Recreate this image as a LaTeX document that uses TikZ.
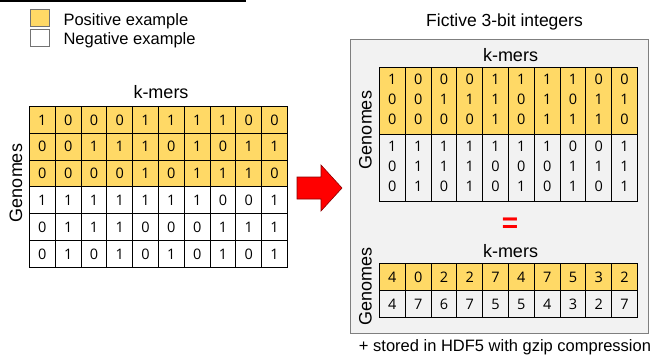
\documentclass[tikz,border=0pt]{standalone}
\usepackage{fontspec}
\setmainfont{Liberation Sans}
\newfontfamily\digitfont{Open Sans}
\usetikzlibrary{matrix}
\definecolor{posyellow}{HTML}{FFD966}
\definecolor{boxgray}{HTML}{F2F2F2}
\definecolor{edgegray}{HTML}{7F7F7F}
\newcommand{\bitcol}[3]{\begin{tabular}{@{}c@{}}#1\\#2\\#3\end{tabular}}
\tikzset{Grid/.style={matrix of nodes, anchor=north west, inner sep=0pt, outer sep=0pt,
    column sep=-0.9pt, row sep=-0.9pt, row 1/.style={nodes={fill=posyellow}},
    nodes={draw, line width=0.9pt, inner sep=0pt, minimum width=25.8pt, minimum height=#1,
      font=\digitfont\fontsize{14.5}{20}\selectfont, text=black}}}

\begin{document}
\begin{tikzpicture}[x=1pt, y=-1pt,
    Box/.style={draw=black!55, line width=0.8pt, minimum width=19pt, minimum height=17pt, inner sep=0pt},
    Heading/.style={font=\fontsize{18}{18}\selectfont, anchor=base},
    Legend/.style={font=\fontsize{16.5}{16.5}\selectfont, anchor=base west}]
        \useasboundingbox (0,0) rectangle (655,357);

        % legend
        \draw[line width=1.2pt] (0,1) -- (246,1);
        \node[Box, fill=posyellow] (posbox) at (39.5,17.5) {};
        \node[Box, fill=white] (negbox) at (39.5,38) {};
        \node[Legend] (postext) at (60,25) {Positive example};
        \node[Legend] (negtext) at (60,44) {Negative example};

        % binary k-mer matrix
        \node[Heading] (kmersA) at (161,98.3) {k-mers};
        \node[Heading, rotate=90] (genomesA) at (22,183) {Genomes};
        \matrix[Grid=26.8pt, row 2/.style={nodes={fill=posyellow}}, row 3/.style={nodes={fill=posyellow}}] (bitsA) at (29,106) {
            1 & 0 & 0 & 0 & 1 & 1 & 1 & 1 & 0 & 0 \\
            0 & 0 & 1 & 1 & 1 & 0 & 1 & 0 & 1 & 1 \\
            0 & 0 & 0 & 0 & 1 & 0 & 1 & 1 & 1 & 0 \\
            1 & 1 & 1 & 1 & 1 & 1 & 1 & 0 & 0 & 1 \\
            0 & 1 & 1 & 1 & 0 & 0 & 0 & 1 & 1 & 1 \\
            0 & 1 & 0 & 1 & 0 & 1 & 0 & 1 & 0 & 1 \\
        };

        \filldraw[fill=red, draw=red!55!black, line width=0.6pt]
            (297,177) -- (321,177) -- (321,165) -- (342,188) -- (321,211) -- (321,199) -- (297,199) -- cycle;

        % packed integers
        \node[Heading, font=\fontsize{17.5}{17.5}\selectfont] (fictive) at (504.5,26) {Fictive 3-bit integers};
        \node[draw=edgegray, fill=boxgray, line width=1.2pt, minimum width=298pt, minimum height=294pt,
            inner sep=0pt, anchor=north west] (frame) at (350,39) {};

        \node[Heading] (kmersB) at (510.5,61.7) {k-mers};
        \node[Heading, rotate=90] (genomesB) at (371.5,130) {Genomes};
        \matrix[Grid=67pt] (bitsB) at (379,67) {
            \bitcol100 & \bitcol000 & \bitcol010 & \bitcol010 & \bitcol111 &
            \bitcol100 & \bitcol111 & \bitcol101 & \bitcol011 & \bitcol010 \\
            \bitcol100 & \bitcol111 & \bitcol110 & \bitcol111 & \bitcol100 &
            \bitcol101 & \bitcol100 & \bitcol011 & \bitcol010 & \bitcol111 \\
        };

        \node[text=red, font=\fontsize{28}{28}\selectfont\bfseries] (equals) at (510,225) {=};

        \node[Heading] (kmersC) at (510.5,257.3) {k-mers};
        \node[Heading, rotate=90] (genomesC) at (371.5,286.7) {Genomes};
        \matrix[Grid=27pt] (intsC) at (379,263) {
            4 & 0 & 2 & 2 & 7 & 4 & 7 & 5 & 3 & 2 \\
            4 & 7 & 6 & 7 & 5 & 5 & 4 & 3 & 2 & 7 \\
        };

        \node[font=\fontsize{16.5}{16.5}\selectfont, anchor=base] (hdf) at (505,351.5) {+ stored in HDF5 with gzip compression};
    \end{tikzpicture}
\end{document}
